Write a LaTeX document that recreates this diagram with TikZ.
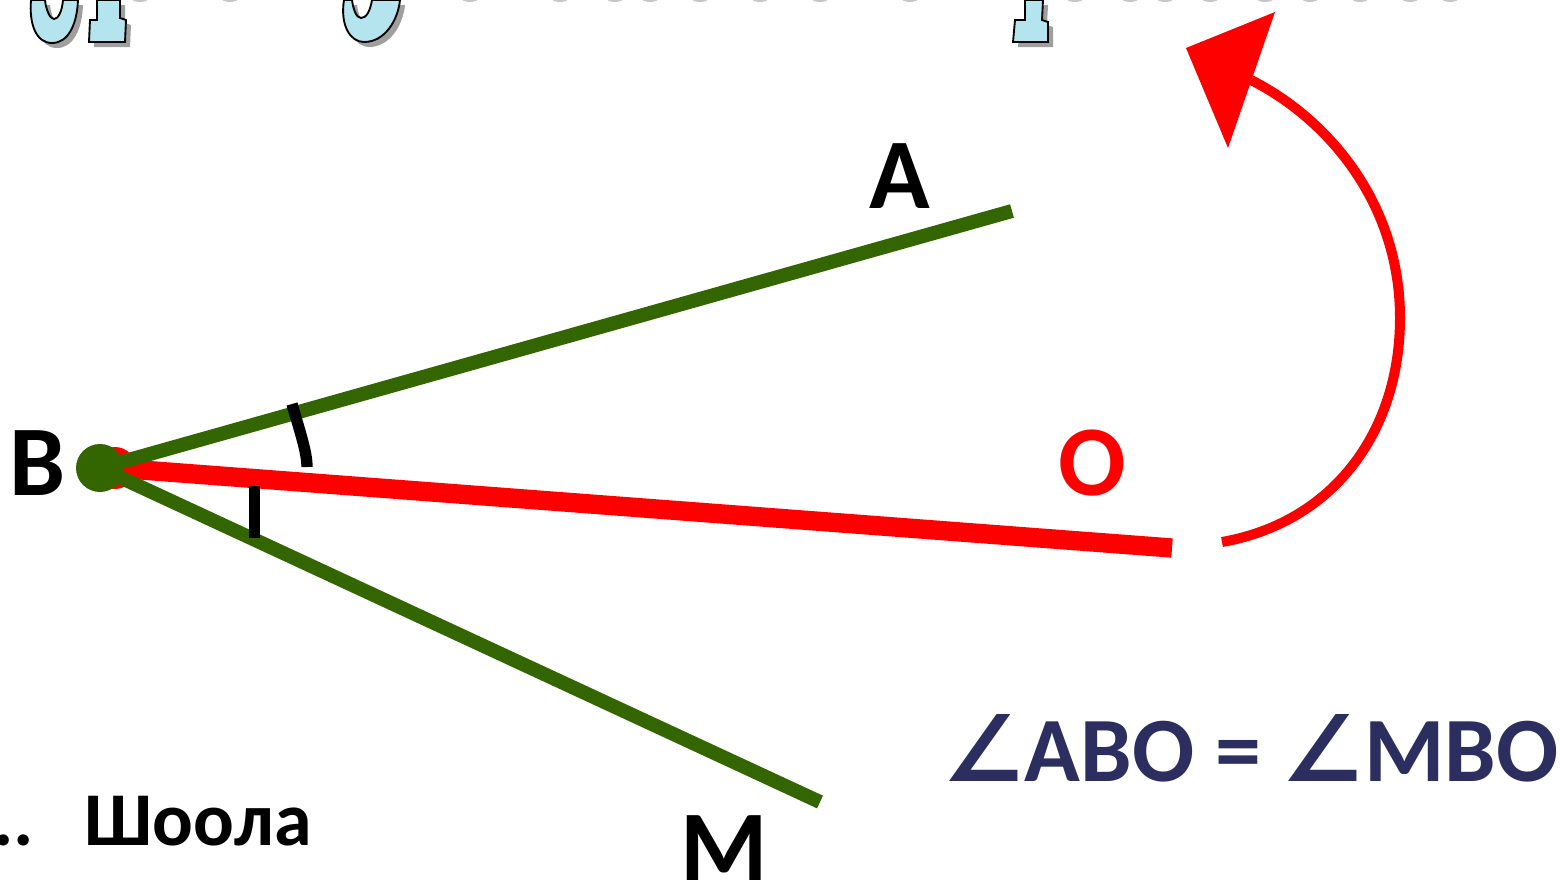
\documentclass[tikz,border=0pt]{standalone}
\usepackage{fontspec}
\setmainfont{Carlito}
\newfontfamily\anglefont{DejaVu Sans}
\usetikzlibrary{arrows.meta}

\definecolor{raygreen}{HTML}{336600}
\definecolor{eqnavy}{HTML}{2B2E5E}
\definecolor{letterblue}{HTML}{B4E4EE}

\tikzset{
  ray/.style={raygreen, line width=10.5pt},
  bisector/.style={red, line width=14.5pt},
  tickmark/.style={black, line width=8.5pt},
  ptlabel/.style={font=\fontsize{75}{80}\selectfont\bfseries, inner sep=0pt, anchor=base},
  titlepiece/.style={fill=letterblue, draw=black, line width=1.4pt},
  titleshadow/.style={fill=gray!75, shift={(5,5)}},
}

\begin{document}
\begin{tikzpicture}[x=0.75pt, y=-0.75pt]

  \useasboundingbox (0,0) rectangle (1560,883);
  \clip (0,0) rectangle (1560,883);

  % bottoms of the title letters, cut by the top edge
  \foreach \dx in {140,230,470,560,615,650,700,760,820,910,1075,1130,1165,1210,1265,1310,1360,1410,1450}
    \fill[gray!45] (\dx,-1) ellipse[x radius=6pt, y radius=2.2pt];
  \foreach \piece in {
      {(31,0) .. controls (29,24) and (36,43) .. (52,43) .. controls (68,43) and (77,25) .. (78,0) -- (63,0) .. controls (62,12) and (58,19) .. (54,19) .. controls (50,19) and (46,10) .. (45,0) -- cycle},
      {(97,0) -- (97,20) -- (90,20) -- (89,42) -- (125,42) -- (126,20) -- (120,18) -- (120,0) -- cycle},
      {(344,0) .. controls (340,25) and (350,42) .. (364,42) .. controls (385,42) and (398,20) .. (400,0) -- (372,0) .. controls (370,12) and (366,18) .. (361,18) .. controls (356,18) and (353,8) .. (352,0) -- cycle},
      {(1025,0) -- (1025,20) -- (1015,20) -- (1013,42) -- (1048,42) -- (1048,22) -- (1042,20) -- (1043,0) -- cycle}} {
    \path[titleshadow] \piece;
    \path[titlepiece] \piece;
  }

  % vertex and ray ends
  \coordinate (B) at (100,468);
  \coordinate (Bred) at (115,468);
  \coordinate (Aend) at (1012,211);
  \coordinate (Mend) at (820,802);
  \coordinate (Oend) at (1172,548);

  % bisector BO under the sides of the angle
  \draw[bisector] (Bred) -- (Oend);
  \fill[red] (Bred) circle[radius=15.75pt];
  \draw[ray] (B) -- (Aend);
  \draw[ray] (B) -- (Mend);
  \fill[raygreen] (B) circle[radius=18pt];

  % equal-angle marks
  \draw[tickmark] (292,404) .. controls (300,432) and (307,452) .. (307,467);
  \draw[tickmark] (254.5,486) -- (254.5,538);

  % point labels
  \node[ptlabel] (labA) at (900,208) {A};
  \node[ptlabel] (labB) at (38,495) {B};
  \node[ptlabel, red] (labO) at (1092,495) {O};
  \node[ptlabel] (labM) at (724,880) {M};

  % rotation arrow
  \coordinate (turnstart) at (1222,542);
  \coordinate (turnmid) at (1400,318);
  \coordinate (turnend) at (1251,80);
  \draw[red, line width=7.5pt] (turnstart) .. controls (1335,522) and (1400,430) .. (turnmid)
    .. controls (1400,205) and (1330,120) .. (turnend);
  \fill[red] (1275,12) -- (1186,48) -- (1228,148) -- cycle;

  \node[font=\fontsize{69}{74}\selectfont\bfseries, text=eqnavy, anchor=base west, inner sep=0pt]
    (equality) at (942,781) {{\anglefont ∠}ABO = {\anglefont ∠}MBO};

  \node[font=\fontsize{57}{60}\selectfont\bfseries, anchor=base west, inner sep=0pt]
    (caption) at (-7,845) {..\hspace{38pt}Шоола};

\end{tikzpicture}
\end{document}
